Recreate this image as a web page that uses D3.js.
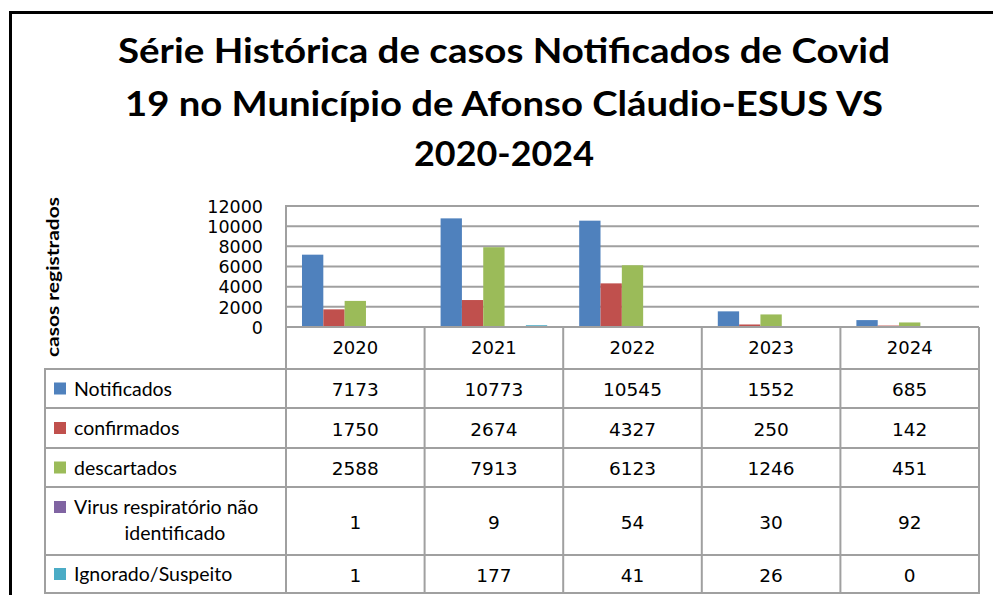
<!DOCTYPE html>
<html><head><meta charset="utf-8">
<script src="https://cdn.jsdelivr.net/npm/d3@7"></script>
<style>body{margin:0;background:#fff}svg{display:block}</style>
</head><body>
<script>
const years = ["2020","2021","2022","2023","2024"];
const seriesNames = ["Notificados","confirmados","descartados","Virus respiratório não identificado","Ignorado/Suspeito"];
const notificados = [7173,10773,10545,1552,685];
const confirmados = [1750,2674,4327,250,142];
const descartados = [2588,7913,6123,1246,451];
const virusNaoIdent = [1,9,54,30,92];
const ignorado = [1,177,41,26,0];
const yTicks = [0,2000,4000,6000,8000,10000,12000];
const titleLines = ["Série Histórica de casos Notificados de Covid","19 no Município de Afonso Cláudio-ESUS VS","2020-2024"];
const yTitle = "casos registrados";

const series = [notificados,confirmados,descartados,virusNaoIdent,ignorado];
const colors = ["#4F81BD","#C0504D","#9BBB59","#8064A2","#4BACC6"];

const W=993,H=595;
const svg=d3.select("body").append("svg").attr("width",W).attr("height",H);

// outer border
svg.append("path").attr("d","M10.5,600 V12.5 H1000").attr("fill","none").attr("stroke","#000").attr("stroke-width",3);

// title
const tl=[{y:63,len:772},{y:116,len:758},{y:166,len:180}];
svg.selectAll("text.title").data(titleLines).join("text")
  .attr("x",504).attr("y",(d,i)=>tl[i].y).attr("text-anchor","middle")
  .attr("font-family","Lato, 'Open Sans', sans-serif").attr("font-weight","bold").attr("font-size",35)
  .attr("textLength",(d,i)=>tl[i].len).attr("lengthAdjust","spacingAndGlyphs")
  .attr("fill","#000").text(d=>d);

const pLeft=286,pRight=979,pTop=206,pBottom=327;
const x0=d3.scaleBand().domain(years).range([pLeft,pRight]).padding(0);
const bw=x0.bandwidth();
const barW=bw/6.5;
const x1=d3.scaleBand().domain(d3.range(series.length)).range([barW*0.75,bw-barW*0.75]).padding(0);
const y=d3.scaleLinear().domain([0,12000]).range([pBottom,pTop]);
const gridC="#a0a0a0";

// gridlines
svg.append("g").selectAll("line").data(yTicks).join("line")
  .attr("x1",pLeft).attr("x2",pRight).attr("y1",d=>y(d)).attr("y2",d=>y(d))
  .attr("stroke",gridC).attr("stroke-width",2);
svg.append("line").attr("x1",pLeft).attr("x2",pLeft).attr("y1",pTop-1).attr("y2",pBottom).attr("stroke",gridC).attr("stroke-width",2);

// y tick labels
const yAxis=d3.axisLeft(y).tickValues(yTicks).tickSize(0).tickPadding(0).tickFormat(d3.format("d"));
const ga=svg.append("g").attr("transform","translate(263,0)").call(yAxis);
ga.select(".domain").remove();
ga.selectAll("text").attr("font-family","'DejaVu Sans', Verdana, sans-serif").attr("font-size",17.5).attr("fill","#000").attr("dy","0.36em");

// y title
svg.append("text").attr("transform","translate(59,277) rotate(-90)").attr("text-anchor","middle")
  .attr("font-family","Lato, 'Open Sans', sans-serif").attr("font-weight","bold").attr("font-size",17)
  .attr("textLength",160).attr("lengthAdjust","spacingAndGlyphs").text(yTitle);

// bars
const gb=svg.append("g");
years.forEach((yr,i)=>{
  series.forEach((s,j)=>{
    const v=s[i];
    gb.append("rect").attr("x",x0(yr)+x1(j)).attr("width",x1.bandwidth())
      .attr("y",y(v)).attr("height",Math.max(0,y(0)-y(v))).attr("fill",colors[j]);
  });
});
// redraw zero line above bars
svg.append("line").attr("x1",pLeft).attr("x2",pRight).attr("y1",y(0)).attr("y2",y(0)).attr("stroke",gridC).attr("stroke-width",2);

// table
const tLeft=45;
const rowEdges=[369,408,448,487,555,593];
const tg=svg.append("g");
const colEdges=[pLeft].concat(years.map(d=>x0(d)+bw));
colEdges.forEach(cx=>{
  tg.append("line").attr("x1",cx).attr("x2",cx).attr("y1",pBottom).attr("y2",rowEdges[rowEdges.length-1]).attr("stroke",gridC).attr("stroke-width",2);
});
tg.append("line").attr("x1",tLeft).attr("x2",tLeft).attr("y1",rowEdges[0]).attr("y2",rowEdges[rowEdges.length-1]).attr("stroke",gridC).attr("stroke-width",2);
rowEdges.forEach(ry=>{
  tg.append("line").attr("x1",tLeft-1).attr("x2",pRight+1).attr("y1",ry).attr("y2",ry).attr("stroke",gridC).attr("stroke-width",2);
});
// year labels
tg.selectAll("text.yr").data(years).join("text")
  .attr("x",d=>x0(d)+bw/2).attr("y",(pBottom+rowEdges[0])/2).attr("dy","0.36em").attr("text-anchor","middle")
  .attr("font-family","'DejaVu Sans', Verdana, sans-serif").attr("font-size",18).attr("fill","#000").text(d=>d);
// rows
seriesNames.forEach((name,j)=>{
  const cy=(rowEdges[j]+rowEdges[j+1])/2;
  const multi = name.length>25;
  const sqY = multi ? cy-14 : cy;
  tg.append("rect").attr("x",54).attr("y",sqY-6).attr("width",12).attr("height",12).attr("fill",colors[j]);
  const lt=tg.append("text").attr("font-family","Lato, 'Open Sans', sans-serif").attr("font-size",19.5).attr("fill","#000");
  if(multi){
    lt.append("tspan").attr("x",74).attr("y",cy-14).attr("dy","0.36em").text("Virus respiratório não");
    lt.append("tspan").attr("x",175).attr("y",cy+12).attr("dy","0.36em").attr("text-anchor","middle").text("identificado");
  } else {
    lt.attr("x",74).attr("y",cy).attr("dy","0.36em").text(name);
  }
  years.forEach((yr,i)=>{
    tg.append("text").attr("x",x0(yr)+bw/2).attr("y",cy+1).attr("dy","0.36em").attr("text-anchor","middle")
      .attr("font-family","'DejaVu Sans', Verdana, sans-serif").attr("font-size",18.5).attr("fill","#000").text(series[j][i]);
  });
});
</script>
</body></html>
